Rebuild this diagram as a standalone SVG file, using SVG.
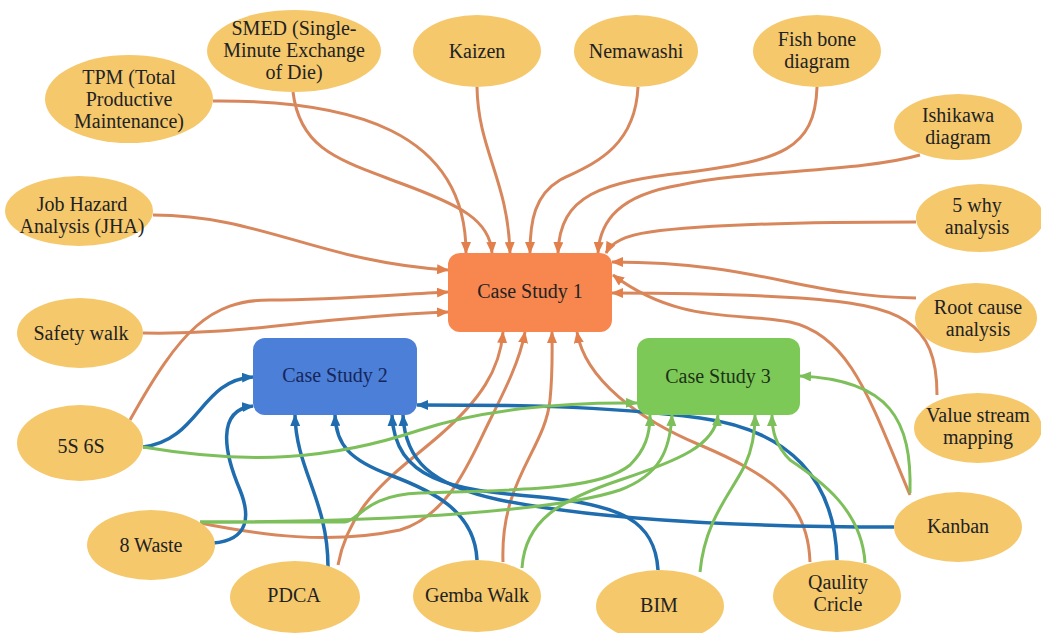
<svg xmlns="http://www.w3.org/2000/svg" width="1041" height="633" viewBox="0 0 1041 633" font-family="'Liberation Serif', Tinos, 'Times New Roman', 'DejaVu Serif', serif">
<style>
.n{fill:#F5C86C;}
.t{font-family:'Liberation Serif', Tinos, 'Times New Roman', 'DejaVu Serif', serif;font-size:20px;fill:#222;text-anchor:middle;}
.o{fill:none;stroke:#D8875C;stroke-width:3;marker-end:url(#ao);}
.b{fill:none;stroke:#1F6DAE;stroke-width:3.5;marker-end:url(#ab);}
.g{fill:none;stroke:#7DBF5A;stroke-width:3;marker-end:url(#ag);}
</style>
<defs>
<marker id="ao" viewBox="0 0 12 10" refX="11" refY="5" markerWidth="12" markerHeight="10" markerUnits="userSpaceOnUse" orient="auto"><path d="M0,0 L12,5 L0,10 z" fill="#E27F4A"/></marker>
<marker id="ab" viewBox="0 0 12 10" refX="11" refY="5" markerWidth="12" markerHeight="10" markerUnits="userSpaceOnUse" orient="auto"><path d="M0,0 L12,5 L0,10 z" fill="#1F6DAE"/></marker>
<marker id="ag" viewBox="0 0 12 10" refX="11" refY="5" markerWidth="12" markerHeight="10" markerUnits="userSpaceOnUse" orient="auto"><path d="M0,0 L12,5 L0,10 z" fill="#7DBF5A"/></marker>
</defs>
<rect width="1041" height="633" fill="#fff"/>
<g id="connectors">
<path class="o" d="M213,101 C350,100 466,130 466,253"/>
<path class="o" d="M293,92 C300,150 340,160 400,183 C460,205 490,220 492,253"/>
<path class="o" d="M477,87 C478,150 508,180 510,253"/>
<path class="o" d="M638,87 C635,150 590,165 560,180 C535,195 530,220 530,253"/>
<path class="o" d="M817,87 C815,150 780,160 690,172 C600,182 560,195 558,253"/>
<path class="o" d="M920,155 C860,172 750,170 680,185 C620,195 600,220 598,253"/>
<path class="o" d="M916,222 C800,222 700,225 650,232 C620,236 610,245 606,253"/>
<path class="o" d="M916,298 C800,296 760,262 612,262"/>
<path class="o" d="M937,395 C937,320 900,305 800,298 C720,293 660,293 612,293"/>
<path class="o" d="M910,495 C870,400 850,335 790,322 C740,312 680,325 613,275"/>
<path class="o" d="M810,562 C808,500 770,475 700,445 C640,420 585,380 577,332"/>
<path class="o" d="M503,562 C500,480 545,450 550,400 C553,370 552,350 552,332"/>
<path class="o" d="M338,565 C350,500 400,470 440,435 C480,400 500,370 503,332"/>
<path class="o" d="M200,523 C260,535 330,545 400,530 C450,515 470,460 490,420 C505,390 520,360 525,332"/>
<path class="o" d="M153,215 C260,215 320,262 448,270"/>
<path class="o" d="M130,420 C180,330 210,300 270,300 C330,300 390,295 448,292"/>
<path class="o" d="M143,333 C250,335 300,318 448,312"/>
<path class="b" d="M143,447 C200,440 200,380 253,377"/>
<path class="b" d="M213,543 C250,540 250,515 240,490 C225,455 215,410 253,406"/>
<path class="b" d="M328,567 C328,500 296,470 295,415"/>
<path class="b" d="M477,560 C475,510 430,490 390,475 C350,460 336,445 335,415"/>
<path class="b" d="M658,570 C655,520 620,505 540,497 C450,490 395,480 392,415"/>
<path class="b" d="M894,527 C750,527 600,520 500,500 C430,485 405,460 403,415"/>
<path class="b" d="M837,560 C835,480 790,430 700,418 C600,405 500,405 417,405"/>
<path class="g" d="M143,447 C250,465 330,460 420,430 C480,410 560,402 637,403"/>
<path class="g" d="M200,522 C400,522 560,510 620,490 C660,475 670,450 672,415"/>
<path class="g" d="M200,522 L345,522 C360,520 365,495 420,493 C520,490 600,490 630,465 C645,450 650,435 650,415"/>
<path class="g" d="M522,568 C525,520 560,500 620,480 C680,460 715,445 718,415"/>
<path class="g" d="M700,572 C705,520 730,495 745,465 C752,450 755,435 755,415"/>
<path class="g" d="M865,563 C862,510 820,480 790,460 C775,445 772,430 772,415"/>
<path class="g" d="M910,493 C912,420 890,380 800,376"/>
</g>
<g id="cs1"><rect x="448" y="253" width="164" height="79" rx="12" fill="#F7874F"/><text class="t" x="530" y="298">Case Study 1</text></g>
<g id="cs2"><rect x="253" y="338" width="164" height="77" rx="12" fill="#4B7FD8"/><text class="t" x="335" y="382" fill="#16265a" style="fill:#16265a">Case Study 2</text></g>
<g id="cs3"><rect x="637" y="338" width="163" height="77" rx="12" fill="#7DC957"/><text class="t" x="718" y="383" style="fill:#1c3216">Case Study 3</text></g>
<g id="tpm"><ellipse class="n" cx="129" cy="99" rx="84" ry="44"/><text class="t" x="129" y="84">TPM (Total</text><text class="t" x="129" y="106">Productive</text><text class="t" x="129" y="128">Maintenance)</text></g>
<g id="smed"><ellipse class="n" cx="294" cy="51" rx="87" ry="41"/><text class="t" x="294" y="35">SMED (Single-</text><text class="t" x="294" y="57">Minute Exchange</text><text class="t" x="294" y="79">of Die)</text></g>
<g id="kaizen"><ellipse class="n" cx="477" cy="51" rx="64" ry="36"/><text class="t" x="477" y="58">Kaizen</text></g>
<g id="nemawashi"><ellipse class="n" cx="636" cy="51" rx="62" ry="36"/><text class="t" x="636" y="58">Nemawashi</text></g>
<g id="fishbone"><ellipse class="n" cx="817" cy="51" rx="64" ry="36"/><text class="t" x="817" y="46">Fish bone</text><text class="t" x="817" y="68">diagram</text></g>
<g id="ishikawa"><ellipse class="n" cx="958" cy="127" rx="64" ry="33"/><text class="t" x="958" y="122">Ishikawa</text><text class="t" x="958" y="144">diagram</text></g>
<g id="why"><ellipse class="n" cx="980" cy="218" rx="64" ry="34"/><text class="t" x="977" y="212">5 why</text><text class="t" x="977" y="234">analysis</text></g>
<g id="rootcause"><ellipse class="n" cx="976" cy="318" rx="61" ry="35"/><text class="t" x="978" y="314">Root cause</text><text class="t" x="978" y="336">analysis</text></g>
<g id="vsm"><ellipse class="n" cx="978" cy="428" rx="64" ry="35"/><text class="t" x="978" y="422">Value stream</text><text class="t" x="978" y="444">mapping</text></g>
<g id="kanban"><ellipse class="n" cx="958" cy="527" rx="64" ry="35"/><text class="t" x="958" y="533">Kanban</text></g>
<g id="quality"><ellipse class="n" cx="837" cy="596" rx="64" ry="36"/><text class="t" x="838" y="589">Qaulity</text><text class="t" x="838" y="611">Cricle</text></g>
<g id="bim"><ellipse class="n" cx="660" cy="606" rx="64" ry="36"/><text class="t" x="659" y="612">BIM</text></g>
<g id="gemba"><ellipse class="n" cx="477" cy="596" rx="64" ry="36"/><text class="t" x="477" y="602">Gemba Walk</text></g>
<g id="pdca"><ellipse class="n" cx="295" cy="597" rx="65" ry="36"/><text class="t" x="294" y="602">PDCA</text></g>
<g id="waste"><ellipse class="n" cx="151" cy="545" rx="64" ry="35"/><text class="t" x="151" y="552">8 Waste</text></g>
<g id="s5s6"><ellipse class="n" cx="80" cy="443" rx="63" ry="38"/><text class="t" x="81" y="453">5S 6S</text></g>
<g id="safety"><ellipse class="n" cx="80" cy="333" rx="63" ry="35"/><text class="t" x="81" y="340">Safety walk</text></g>
<g id="jha"><ellipse class="n" cx="79" cy="211" rx="74" ry="35"/><text class="t" x="82" y="211">Job Hazard</text><text class="t" x="82" y="233">Analysis (JHA)</text></g>
</svg>
